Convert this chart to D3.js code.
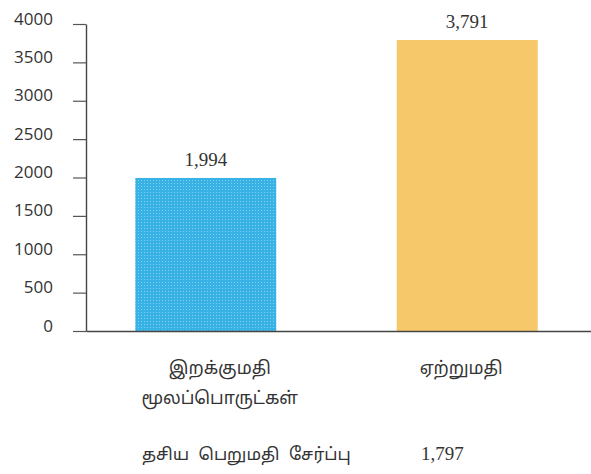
<!DOCTYPE html>
<html>
<head>
<meta charset="utf-8">
<script src="https://cdn.jsdelivr.net/npm/d3@7"></script>
<style>
  html, body { margin: 0; padding: 0; background: #fff; }
  svg { display: block; }
  .tick-label { font-family: "Open Sans", "DejaVu Sans", sans-serif; font-size: 17px; fill: #333; }
  .value-label { font-family: "Liberation Serif", "Times New Roman", serif; font-size: 19px; fill: #333; }
  .tamil { font-family: "Noto Sans Tamil", "Latha", "Lohit Tamil", "Noto Sans", sans-serif; font-size: 17.5px; fill: #333; }
  .footer-tamil { font-family: "Noto Sans Tamil", "Latha", "Lohit Tamil", "Noto Sans", sans-serif; font-size: 17px; fill: #333; word-spacing: 5px; }
</style>
</head>
<body>
<svg id="chart" width="591" height="474"></svg>
<script>
// Categories (two-line Tamil labels) and their values
const categories = ["இறக்குமதி மூலப்பொருட்கள்", "ஏற்றுமதி"];
const categoryLines = [["இறக்குமதி", "மூலப்பொருட்கள்"], ["ஏற்றுமதி"]];
const values = [1994, 3791];
const barColors = ["url(#dots)", "#f6c86a"];
const yTicks = [0, 500, 1000, 1500, 2000, 2500, 3000, 3500, 4000];
const footerLabel = "தசிய பெறுமதி சேர்ப்பு";
const footerValue = 1797;

const svg = d3.select("#chart");
const fmt = d3.format(",");

const axisX = 86;
const baseY = 331;

// Fine halftone texture for the blue bar
const pat = svg.append("defs").append("pattern")
  .attr("id", "dots")
  .attr("patternUnits", "userSpaceOnUse")
  .attr("width", 3).attr("height", 3);
pat.append("rect").attr("width", 3).attr("height", 3).attr("fill", "#38b1e5");
pat.append("rect").attr("x", 0).attr("y", 0).attr("width", 1).attr("height", 1).attr("fill", "#7fd0f2");

const y = d3.scaleLinear().domain([0, 4000]).range([baseY, 24]);
const x = d3.scaleBand()
  .domain(categories)
  .range([83, 590])
  .paddingInner(0.461)
  .paddingOuter(0.2);

// Bars
svg.append("g").selectAll("rect")
  .data(values)
  .join("rect")
  .attr("x", (d, i) => x(categories[i]))
  .attr("y", d => y(d))
  .attr("width", x.bandwidth())
  .attr("height", d => baseY - y(d))
  .attr("fill", (d, i) => barColors[i]);

// Value labels above bars
svg.append("g").selectAll("text")
  .data(values)
  .join("text")
  .attr("class", "value-label")
  .attr("x", (d, i) => x(categories[i]) + x.bandwidth() / 2)
  .attr("y", d => y(d) - 12)
  .attr("text-anchor", "middle")
  .text(d => fmt(d));

// Y axis: ticks on the left, labels sitting slightly above each tick
const yAxis = d3.axisLeft(y)
  .tickValues(yTicks)
  .tickFormat(d3.format("d"))
  .tickSize(13)
  .tickPadding(20)
  .tickSizeOuter(0);
const gy = svg.append("g")
  .attr("transform", `translate(${axisX},0)`)
  .call(yAxis)
  .attr("font-family", null)
  .attr("font-size", null);
gy.select(".domain").attr("stroke", "#444").attr("stroke-width", 1.4);
gy.selectAll(".tick line").attr("stroke", "#555").attr("stroke-width", 1.2);
gy.selectAll(".tick text")
  .attr("class", "tick-label")
  .attr("fill", null)
  .attr("dy", "0.0em");

// Baseline across the chart
const xAxis = d3.axisBottom(d3.scaleLinear().domain([0, 1]).range([axisX, 591])).ticks(0).tickSize(0).tickSizeOuter(0);
const gx = svg.append("g").attr("transform", `translate(0,${baseY})`).call(xAxis);
gx.select(".domain").attr("stroke", "#444").attr("stroke-width", 1.4);
gx.selectAll(".tick").remove();

// Category labels
const labelG = svg.append("g");
categoryLines.forEach((lines, i) => {
  const cx = x(categories[i]) + x.bandwidth() / 2 + (i === 0 ? 14 : -6);
  const t = labelG.append("text")
    .attr("class", "tamil")
    .attr("text-anchor", "middle")
    .attr("y", 374);
  lines.forEach((ln, j) => {
    t.append("tspan").attr("x", cx).attr("dy", j === 0 ? 0 : 30).text(ln);
  });
});

// Footer: total value added
const footer = svg.append("text").attr("y", 460);
footer.append("tspan").attr("class", "footer-tamil").attr("x", 142).text(footerLabel);
footer.append("tspan").attr("class", "value-label").attr("x", 421).text(fmt(footerValue));
</script>
</body>
</html>
